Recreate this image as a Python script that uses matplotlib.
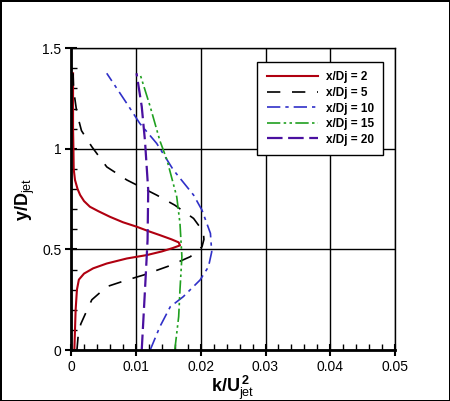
import matplotlib
matplotlib.use('Agg')
import matplotlib.pyplot as plt
from matplotlib.ticker import MultipleLocator

plt.rcParams['font.family'] = ['Liberation Sans', 'DejaVu Sans']
plt.rcParams['mathtext.fontset'] = 'custom'
plt.rcParams['mathtext.rm'] = 'Liberation Sans'
plt.rcParams['mathtext.bf'] = 'Liberation Sans:bold'

# x/Dj = 2
y2 = [0.0, 0.1, 0.2, 0.3, 0.35, 0.38, 0.406, 0.43, 0.455, 0.472, 0.49, 0.507, 0.52,
      0.535, 0.55, 0.571, 0.59, 0.613, 0.635, 0.662, 0.69, 0.712, 0.74, 0.77, 0.8,
      0.845, 0.9, 1.0, 1.1, 1.2, 1.3, 1.375]
k2 = [0.0005, 0.0006, 0.0007, 0.0009, 0.0012, 0.002, 0.0034, 0.0055, 0.0086, 0.0117,
      0.014, 0.0157, 0.0168, 0.0166, 0.0155, 0.0137, 0.012, 0.0101, 0.008, 0.006,
      0.0042, 0.0029, 0.002, 0.0014, 0.001, 0.0006, 0.0004, 0.00036, 0.0003, 0.0003,
      0.0003, 0.0003]
# x/Dj = 5
y5 = [0.0, 0.075, 0.13, 0.18, 0.25, 0.315, 0.348, 0.373, 0.42, 0.464, 0.513, 0.55,
      0.588, 0.654, 0.72, 0.77, 0.845, 0.91, 1.01, 1.09, 1.176, 1.29, 1.375]
k5 = [0.0009, 0.0011, 0.0015, 0.0022, 0.0032, 0.0055, 0.0086, 0.0112, 0.0153, 0.0184,
      0.0202, 0.0205, 0.0204, 0.0189, 0.016, 0.0132, 0.0086, 0.0055, 0.0032, 0.0016,
      0.0009, 0.0004, 0.0003]
# x/Dj = 10
y10 = [0.0, 0.116, 0.215, 0.265, 0.348, 0.414, 0.488, 0.58, 0.695, 0.77, 0.894,
       1.027, 1.126, 1.225, 1.375]
k10 = [0.0122, 0.0137, 0.0153, 0.0173, 0.0199, 0.0212, 0.0217, 0.0215, 0.0202, 0.0189,
       0.0158, 0.0132, 0.0106, 0.0086, 0.0055]
# x/Dj = 15
y15 = [0.0, 0.166, 0.298, 0.464, 0.63, 0.762, 0.944, 1.04, 1.21, 1.375]
k15 = [0.016, 0.0166, 0.0168, 0.0171, 0.0168, 0.0163, 0.0148, 0.0137, 0.0122, 0.0106]
# x/Dj = 20
y20 = [0.0, 0.298, 0.546, 0.795, 1.04, 1.21, 1.375]
k20 = [0.0109, 0.0114, 0.0118, 0.0119, 0.0114, 0.0109, 0.0101]

xticks = [0, 0.01, 0.02, 0.03, 0.04, 0.05]
xlabels = ['0', '0.01', '0.02', '0.03', '0.04', '0.05']
yticks = [0, 0.5, 1, 1.5]
ylabels = ['0', '0.5', '1', '1.5']

fig = plt.figure(figsize=(4.5, 4.01), dpi=100)
fig.patch.set_edgecolor('black')
fig.patch.set_linewidth(2)
ax = fig.add_axes([0.158, 0.127, 0.72, 0.753])

ax.plot(k2, y2, color='#b00010', lw=1.5, label='x/Dj = 2')
ax.plot(k5, y5, color='black', lw=1.2, dashes=(8, 7), label='x/Dj = 5')
ax.plot(k10, y10, color='#3030c8', lw=1.2, dashes=(8, 3, 2, 3), label='x/Dj = 10')
ax.plot(k15, y15, color='#20a020', lw=1.2, dashes=(8, 2, 1.5, 2, 1.5, 2), label='x/Dj = 15')
ax.plot(k20, y20, color='#4a10a0', lw=1.6, dashes=(7, 2.5), label='x/Dj = 20')

ax.set_xticks(xticks, xlabels)
ax.set_yticks(yticks, ylabels)
ax.set_xlim(0, 0.05)
ax.set_ylim(0, 1.5)
ax.xaxis.set_minor_locator(MultipleLocator(0.002))
ax.yaxis.set_minor_locator(MultipleLocator(0.1))
ax.tick_params(which='major', direction='inout', length=8, width=1.5, labelsize=10, pad=3)
ax.tick_params(which='minor', direction='in', length=4, width=1)
ax.grid(True, which='major', color='black', lw=1)

for s in ['left', 'bottom']:
    ax.spines[s].set_linewidth(2)
for s in ['top', 'right']:
    ax.spines[s].set_linewidth(1)

ax.set_xlabel(r'$\mathbf{k/U}_{\mathrm{jet}}^{\,\mathbf{2}}$', fontsize=13, labelpad=0)
ax.set_ylabel(r'$\mathbf{y/D}_{\mathrm{jet}}$', fontsize=13, labelpad=4)

leg = ax.legend(loc='upper right', bbox_to_anchor=(0.963, 0.954), borderaxespad=0,
                fancybox=False, framealpha=1, edgecolor='black', handlelength=4.4,
                handletextpad=0.6, labelspacing=0.3, borderpad=0.8,
                prop={'weight': 'bold', 'size': 8.5})
leg.get_frame().set_linewidth(1)

fig.savefig('out.png', dpi=100, edgecolor=fig.get_edgecolor())
